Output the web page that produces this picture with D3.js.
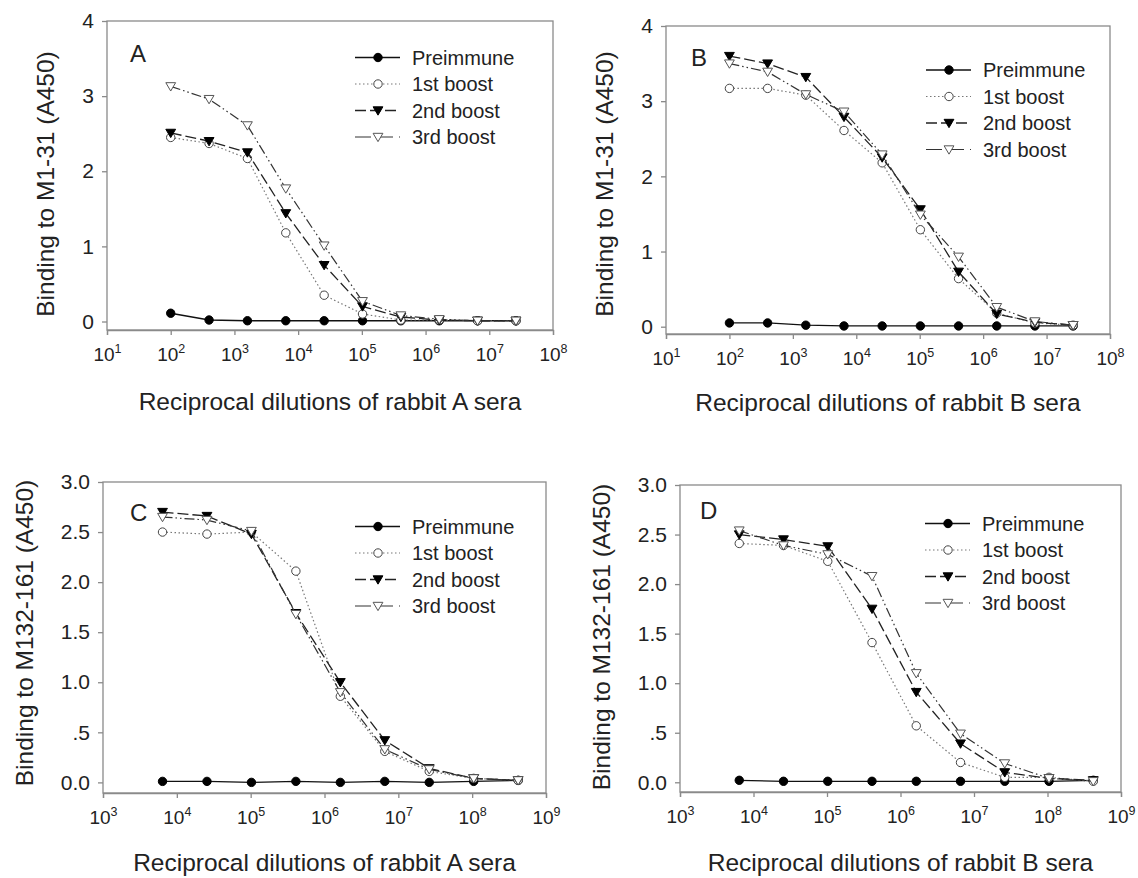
<!DOCTYPE html>
<html>
<head>
<meta charset="utf-8">
<script src="https://cdn.jsdelivr.net/npm/d3@7"></script>
<style>
  body { margin: 0; background: #fff; }
  svg { font-family: "Liberation Sans", Arial, sans-serif; }
</style>
</head>
<body>
<svg id="chart" width="1138" height="878"></svg>
<script>
// dilution series (4-fold)
const dilutionsAB = [100, 400, 1600, 6400, 25600, 102400, 409600, 1638400, 6553600, 26214400];
const dilutionsCD = [6400, 25600, 102400, 409600, 1638400, 6553600, 26214400, 104857600, 419430400];

const seriesNames = ["Preimmune", "1st boost", "2nd boost", "3rd boost"];

// panel A - M1-31, rabbit A
const aPre = [0.11, 0.02, 0.01, 0.01, 0.01, 0.01, 0.01, 0.01, 0.01, 0.01];
const aB1  = [2.45, 2.37, 2.17, 1.18, 0.35, 0.10, 0.02, 0.02, 0.01, 0.01];
const aB2  = [2.51, 2.40, 2.25, 1.44, 0.75, 0.20, 0.06, 0.02, 0.01, 0.01];
const aB3  = [3.13, 2.96, 2.61, 1.77, 1.01, 0.27, 0.08, 0.03, 0.01, 0.01];

// panel B - M1-31, rabbit B
const bPre = [0.05, 0.05, 0.02, 0.01, 0.01, 0.01, 0.01, 0.01, 0.01, 0.01];
const bB1  = [3.17, 3.17, 3.08, 2.61, 2.18, 1.29, 0.64, 0.18, 0.05, 0.02];
const bB2  = [3.60, 3.50, 3.32, 2.79, 2.25, 1.56, 0.73, 0.17, 0.06, 0.02];
const bB3  = [3.50, 3.39, 3.09, 2.86, 2.29, 1.49, 0.93, 0.26, 0.07, 0.02];

// panel C - M132-161, rabbit A
const cPre = [0.01, 0.01, 0.00, 0.01, 0.00, 0.01, 0.00, 0.01, 0.02];
const cB1  = [2.50, 2.48, 2.50, 2.11, 0.86, 0.31, 0.11, 0.04, 0.02];
const cB2  = [2.70, 2.66, 2.48, 1.69, 1.00, 0.42, 0.14, 0.04, 0.02];
const cB3  = [2.65, 2.62, 2.51, 1.68, 0.90, 0.33, 0.13, 0.04, 0.02];

// panel D - M132-161, rabbit B
const dPre = [0.02, 0.01, 0.01, 0.01, 0.01, 0.01, 0.01, 0.01, 0.02];
const dB1  = [2.41, 2.39, 2.23, 1.41, 0.57, 0.20, 0.05, 0.05, 0.01];
const dB2  = [2.50, 2.45, 2.38, 1.75, 0.91, 0.39, 0.10, 0.04, 0.02];
const dB3  = [2.54, 2.39, 2.30, 2.08, 1.10, 0.49, 0.19, 0.04, 0.01];

// tick labels
const xExpAB = [1, 2, 3, 4, 5, 6, 7, 8];
const xExpCD = [3, 4, 5, 6, 7, 8, 9];
const yTicksM1 = [0, 1, 2, 3, 4];
const yLabelsM1 = ["0", "1", "2", "3", "4"];
const yTicksM132 = [0, 0.5, 1, 1.5, 2, 2.5, 3];
const yLabelsM132 = ["0.0", ".5", "1.0", "1.5", "2.0", "2.5", "3.0"];

// line / marker styles per series
const styles = [
  { dash: null,                 stroke: "#111", width: 1.3, marker: "circle",   fill: "#000", mstroke: "#000" },
  { dash: "1.5,2.5",            stroke: "#777", width: 1.2, marker: "circle",   fill: "#fff", mstroke: "#444" },
  { dash: "11,4",               stroke: "#222", width: 1.3, marker: "triangle", fill: "#000", mstroke: "#000" },
  { dash: "10,3,1.5,3,1.5,3",   stroke: "#333", width: 1.2, marker: "triangle", fill: "#fff", mstroke: "#555" }
];

const FONT = "Liberation Sans, Arial, sans-serif";
const svg = d3.select("#chart");

function drawMarker(g, type, x, y, st) {
  if (type === "circle") {
    g.append("circle").attr("cx", x).attr("cy", y).attr("r", 4.2)
      .attr("fill", st.fill).attr("stroke", st.mstroke).attr("stroke-width", 1);
  } else {
    const s = 4.9;
    g.append("path")
      .attr("d", `M${x - s},${y - s * 0.75}L${x + s},${y - s * 0.75}L${x},${y + s * 0.95}Z`)
      .attr("fill", st.fill).attr("stroke", st.mstroke).attr("stroke-width", 1);
  }
}

function drawPanel(p) {
  const g = svg.append("g");
  const x = d3.scaleLog().domain(p.xDomain).range([p.left, p.right]);
  const y = d3.scaleLinear().domain(p.yDomain).range([p.bottom, p.top]);

  // frame
  g.append("rect")
    .attr("x", p.left).attr("y", p.top)
    .attr("width", p.right - p.left).attr("height", p.bottom - p.top)
    .attr("fill", "none").attr("stroke", "#8a8a8a").attr("stroke-width", 1.3);

  // x axis
  const xa = g.append("g")
    .attr("transform", `translate(0,${p.bottom})`)
    .call(d3.axisBottom(x).tickValues(p.xExp.map(e => Math.pow(10, e))).tickSize(5).tickFormat(() => ""));
  xa.attr("font-family", FONT);
  xa.select(".domain").attr("stroke", "#8a8a8a").attr("stroke-width", 1.3);
  xa.selectAll(".tick line").attr("stroke", "#8a8a8a").attr("stroke-width", 1.3);
  xa.selectAll(".tick").each(function (d, i) {
    const t = d3.select(this).append("text")
      .attr("y", 31).attr("fill", "#222").attr("font-size", 19)
      .attr("text-anchor", "middle");
    t.append("tspan").text("10");
    t.append("tspan").attr("dy", -8).attr("font-size", 12.5).text(p.xExp[i]);
  });

  // y axis
  const ya = g.append("g")
    .attr("transform", `translate(${p.left},0)`)
    .call(d3.axisLeft(y).tickValues(p.yTicks).tickSize(5).tickPadding(8)
      .tickFormat((d, i) => p.yLabels[i]));
  ya.attr("font-family", FONT);
  ya.select(".domain").remove();
  ya.selectAll(".tick line").attr("stroke", "#8a8a8a").attr("stroke-width", 1.3);
  ya.selectAll(".tick text").attr("fill", "#222").attr("font-size", 21);

  // series
  p.series.forEach((vals, si) => {
    const st = styles[si];
    const pts = vals.map((v, i) => [x(p.xs[i]), y(v)]);
    g.append("path")
      .attr("d", d3.line()(pts))
      .attr("fill", "none").attr("stroke", st.stroke).attr("stroke-width", st.width)
      .attr("stroke-dasharray", st.dash);
    pts.forEach(pt => drawMarker(g, st.marker, pt[0], pt[1], st));
  });

  // legend
  seriesNames.forEach((name, si) => {
    const st = styles[si];
    const ly = p.legY + si * 26.5;
    g.append("line")
      .attr("x1", p.legX).attr("x2", p.legX + 45).attr("y1", ly).attr("y2", ly)
      .attr("stroke", st.stroke).attr("stroke-width", st.width)
      .attr("stroke-dasharray", si === 3 ? "16,6" : st.dash);
    drawMarker(g, st.marker, p.legX + 23, ly, st);
    g.append("text").attr("x", p.legX + 57).attr("y", ly + 7)
      .attr("font-size", 20).attr("fill", "#222").text(name);
  });

  // panel letter
  g.append("text").attr("x", p.letterX).attr("y", p.letterY)
    .attr("font-size", 24).attr("fill", "#222").text(p.letter);

  // axis titles
  g.append("text")
    .attr("transform", `translate(${p.yTitleX},${p.yTitleY}) rotate(-90)`)
    .attr("text-anchor", "middle").attr("font-size", 24.5).attr("fill", "#222")
    .text(p.yTitle);
  g.append("text")
    .attr("x", (p.left + p.right) / 2).attr("y", p.xTitleY)
    .attr("text-anchor", "middle").attr("font-size", 24.5).attr("fill", "#222")
    .text(p.xTitle);
}

drawPanel({
  letter: "A", left: 107, right: 553, top: 21, bottom: 330,
  xDomain: [10, 1e8], yDomain: [-0.113, 4], xs: dilutionsAB, xExp: xExpAB,
  yTicks: yTicksM1, yLabels: yLabelsM1,
  series: [aPre, aB1, aB2, aB3],
  legX: 355, legY: 57.5, letterX: 130, letterY: 62,
  yTitle: "Binding to M1-31 (A450)", yTitleX: 54, yTitleY: 184,
  xTitle: "Reciprocal dilutions of rabbit A sera", xTitleY: 410
});

drawPanel({
  letter: "B", left: 666, right: 1110, top: 26, bottom: 334,
  xDomain: [10, 1e8], yDomain: [-0.097, 4], xs: dilutionsAB, xExp: xExpAB,
  yTicks: yTicksM1, yLabels: yLabelsM1,
  series: [bPre, bB1, bB2, bB3],
  legX: 926, legY: 70, letterX: 691, letterY: 66,
  yTitle: "Binding to M1-31 (A450)", yTitleX: 613, yTitleY: 184,
  xTitle: "Reciprocal dilutions of rabbit B sera", xTitleY: 411
});

drawPanel({
  letter: "C", left: 103, right: 546, top: 482, bottom: 793,
  xDomain: [1e3, 1e9], yDomain: [-0.106, 3], xs: dilutionsCD, xExp: xExpCD,
  yTicks: yTicksM132, yLabels: yLabelsM132,
  series: [cPre, cB1, cB2, cB3],
  legX: 355, legY: 526.5, letterX: 130, letterY: 521,
  yTitle: "Binding to M132-161 (A450)", yTitleX: 33, yTitleY: 633,
  xTitle: "Reciprocal dilutions of rabbit A sera", xTitleY: 871
});

drawPanel({
  letter: "D", left: 680, right: 1121, top: 485, bottom: 792,
  xDomain: [1e3, 1e9], yDomain: [-0.098, 3], xs: dilutionsCD, xExp: xExpCD,
  yTicks: yTicksM132, yLabels: yLabelsM132,
  series: [dPre, dB1, dB2, dB3],
  legX: 925, legY: 523.5, letterX: 700, letterY: 519,
  yTitle: "Binding to M132-161 (A450)", yTitleX: 610, yTitleY: 637,
  xTitle: "Reciprocal dilutions of rabbit B sera", xTitleY: 871
});
</script>
</body>
</html>
